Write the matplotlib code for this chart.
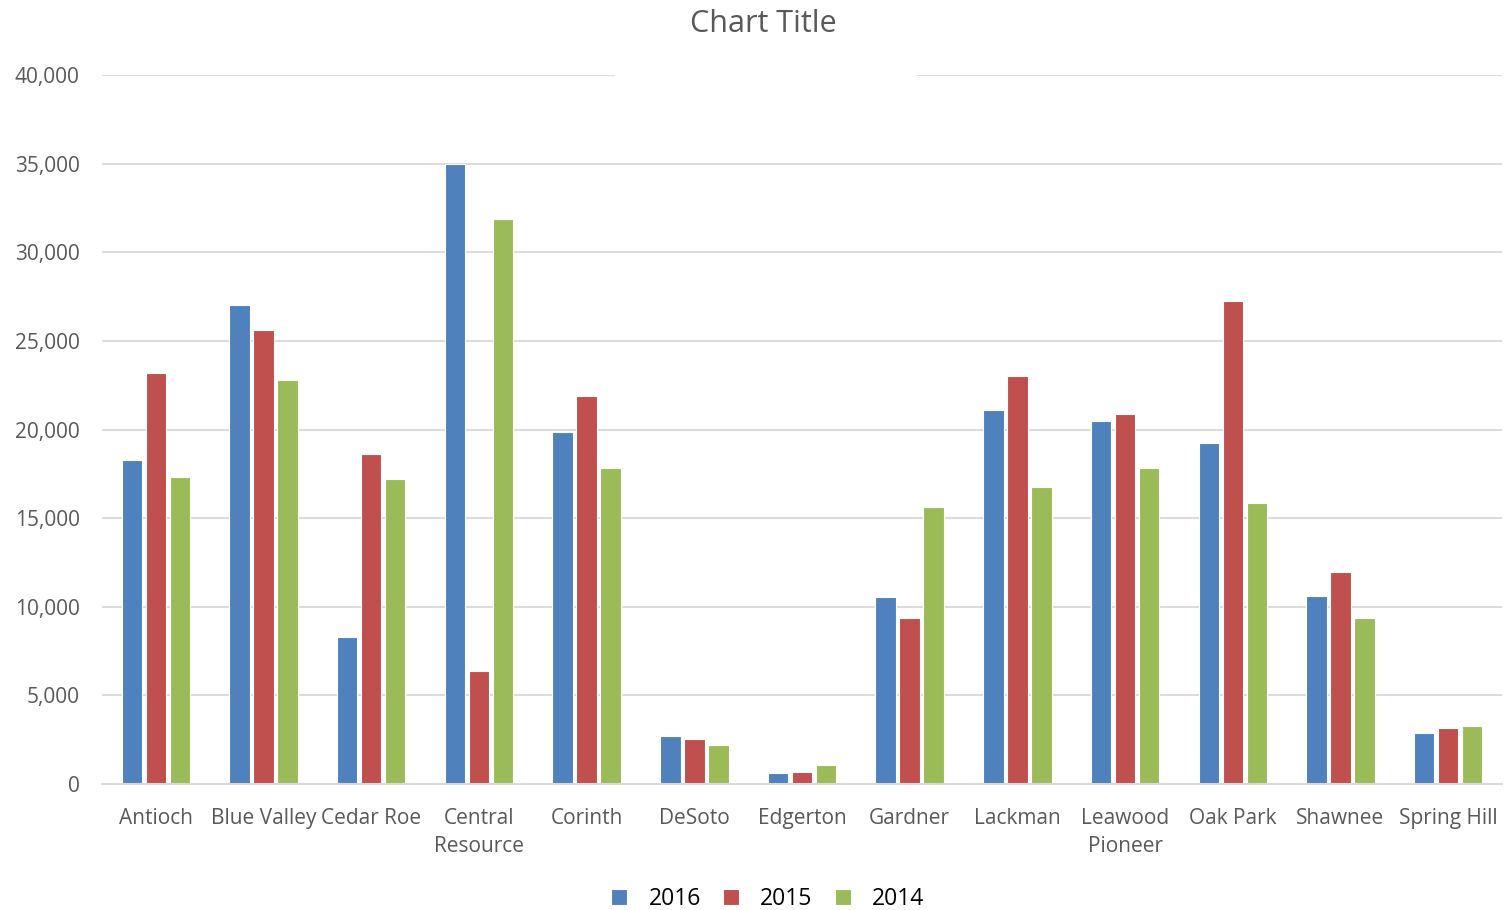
import numpy as np
import matplotlib.pyplot as plt
from matplotlib.patches import Rectangle

# Données
schools = ["Antioch", "Blue Valley", "Cedar Roe", "Central\nResource", "Corinth",
           "DeSoto", "Edgerton", "Gardner", "Lackman", "Leawood\nPioneer",
           "Oak Park", "Shawnee", "Spring Hill"]
years = ["2016", "2015", "2014"]
v2016 = [18300, 27000, 8300, 35000, 19850, 2700, 620, 10550, 21100, 20500, 19250, 10600, 2900]
v2015 = [23200, 25600, 18600, 6400, 21900, 2550, 650, 9350, 23000, 20850, 27250, 11950, 3150]
v2014 = [17300, 22800, 17200, 31900, 17850, 2200, 1100, 15600, 16750, 17800, 15850, 9350, 3300]
colors = ["#4F81BD", "#C0504D", "#9BBB59"]

plt.rcParams['font.family'] = ['Open Sans', 'DejaVu Sans']

fig = plt.figure(figsize=(15.11, 9.10), dpi=100)
ax = fig.add_axes([102 / 1511, 1 - 784 / 910, 1400 / 1511, 709 / 910])

x = np.arange(len(schools))
step = 0.223
width = 0.19
for i, (vals, yr) in enumerate(zip([v2016, v2015, v2014], years)):
    ax.bar(x + (i - 1) * step, vals, width, color=colors[i], label=yr,
           edgecolor="white", linewidth=0.8, zorder=3)

ax.set_xlim(-0.5, len(schools) - 0.5)
ax.set_ylim(0, 40000)
ax.set_yticks(range(0, 40001, 5000))
ax.set_yticklabels([f"{v:,}" for v in range(0, 40001, 5000)])
ax.set_xticks(x)
ax.set_xticklabels(schools, linespacing=1.45)
ax.grid(axis="y", color="#D9D9D9", linewidth=1.3, zorder=0)
for s in ["top", "right", "left"]:
    ax.spines[s].set_visible(False)
ax.spines["bottom"].set_color("#D9D9D9")
ax.spines["bottom"].set_linewidth(1.5)
ax.spines["bottom"].set_zorder(4)
ax.tick_params(axis="both", length=0, colors="#595959", labelsize=15)
ax.tick_params(axis="y", pad=16)
ax.tick_params(axis="x", pad=17)

# zone blanche sur la ligne du haut (comme dans l'original)
ax.add_patch(Rectangle((615 / 1511, 1 - 85 / 910), 302 / 1511, 20 / 910,
                       transform=fig.transFigure, facecolor="white",
                       edgecolor="none", zorder=10, clip_on=False))

fig.text(0.505, 1 - 24 / 910, "Chart Title", ha="center", va="center",
         fontsize=22, color="#595959")

leg = fig.legend(loc="center", bbox_to_anchor=(0.508, 1 - 899 / 910), ncol=3,
                 frameon=False, fontsize=16.5, handlelength=0.7, handleheight=0.7,
                 columnspacing=0.95, handletextpad=0.95, labelcolor="black")

fig.savefig("out.png", dpi=100)
